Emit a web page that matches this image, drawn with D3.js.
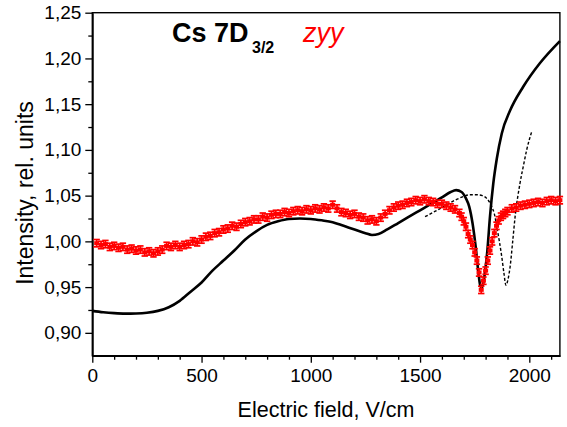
<!DOCTYPE html>
<html>
<head>
<meta charset="utf-8">
<script src="https://cdn.jsdelivr.net/npm/d3@7"></script>
<style>
  html, body { margin: 0; padding: 0; background: #fff; }
  svg { display: block; font-family: "Liberation Sans", Arial, sans-serif; }
</style>
</head>
<body>
<svg id="chart" width="567" height="427"></svg>
<script>
// Measured intensity (red, with error bars)
const redX = [20,40,60,80,100,120,140,160,180,200,220,240,260,280,300,320,340,360,380,400,
  420,440,460,480,500,520,540,560,580,600,620,640,660,680,700,720,740,760,780,800,
  820,840,860,880,900,920,940,960,980,1000,1020,1040,1060,1080,1100,1120,1140,1160,1180,1200,
  1220,1240,1260,1280,1300,1320,1340,1360,1380,1400,1420,1440,1460,1480,1500,1520,1540,1560,1580,1600,
  1620,1640,1660,1680,1690,1700,1710,1720,1730,1740,1750,1760,1770,1780,1790,1800,1810,1820,1830,1840,
  1850,1860,1870,1880,1890,1900,1920,1940,1960,1980,2000,2020,2040,2060,2080,2100,2120,2140];
const redY = [0.998,0.996,0.997,0.994,0.995,0.993,0.994,0.991,0.992,0.990,0.991,0.988,0.989,0.987,0.989,0.991,0.995,0.994,0.996,0.994,
  0.996,0.997,1.000,0.999,1.002,1.005,1.006,1.009,1.010,1.013,1.014,1.017,1.016,1.019,1.021,1.022,1.024,1.024,1.027,1.026,
  1.029,1.030,1.030,1.032,1.031,1.033,1.034,1.033,1.035,1.034,1.036,1.035,1.037,1.036,1.040,1.036,1.032,1.031,1.029,1.030,
  1.027,1.026,1.023,1.024,1.022,1.026,1.030,1.034,1.037,1.039,1.040,1.042,1.043,1.045,1.044,1.046,1.044,1.043,1.041,1.041,
  1.039,1.037,1.035,1.031,1.027,1.022,1.016,1.008,1.002,0.996,0.988,0.979,0.966,0.947,0.957,0.968,0.979,0.990,1.000,1.009,
  1.017,1.023,1.027,1.029,1.031,1.033,1.036,1.037,1.039,1.040,1.041,1.042,1.043,1.042,1.044,1.045,1.044,1.045];
const redErr = 0.004;

// Calculated curve (solid)
const calcX = [0,50,100,150,200,250,300,350,400,450,500,550,600,650,700,750,800,850,900,950,
  1000,1050,1100,1150,1200,1250,1280,1310,1350,1400,1450,1500,1550,1600,1640,1665,1690,1710,1725,1740,
  1755,1767,1775,1782,1790,1797,1808,1820,1835,1851,1874,1912,1972,2049,2140];
const calcY = [0.924,0.9225,0.9215,0.921,0.9212,0.922,0.924,0.928,0.935,0.945,0.955,0.968,0.979,0.990,1.002,1.011,1.018,1.022,1.0245,1.025,
  1.0245,1.023,1.021,1.017,1.013,1.009,1.007,1.008,1.013,1.020,1.027,1.034,1.041,1.048,1.054,1.056,1.054,1.047,1.038,1.020,
  0.993,0.966,0.952,0.949,0.955,0.966,0.990,1.027,1.063,1.090,1.118,1.143,1.169,1.195,1.219];

// Calculated curve (dashed)
const dashX = [1523,1570,1622,1660,1698,1730,1759,1785,1805,1828,1840,1851,1863,1874,1884,1893,1902,1912,1924,1935,1957,1975,1988,2011];
const dashY = [1.027,1.033,1.040,1.045,1.049,1.051,1.051,1.050,1.047,1.038,1.030,1.016,1.000,0.983,0.965,0.952,0.958,0.972,1.000,1.027,1.063,1.085,1.100,1.120];

// Axis ticks
const xMajor = [0,500,1000,1500,2000];
const xMinor = [100,200,300,400,600,700,800,900,1100,1200,1300,1400,1600,1700,1800,1900,2100];
const yMajor = [0.90,0.95,1.00,1.05,1.10,1.15,1.20,1.25];
const yMinor = [0.925,0.975,1.025,1.075,1.125,1.175,1.225];

const svg = d3.select("#chart");
const x = d3.scaleLinear().domain([0, 2140]).range([92.3, 559.9]);
const y = d3.scaleLinear().domain([0.875, 1.25]).range([355.7, 12.7]);

const commaFmt = d3.formatLocale({decimal: ",", thousands: " ", grouping: [3], currency: ["", ""]}).format(".2f");

// Frame
svg.append("rect")
  .attr("x", x.range()[0]).attr("y", y.range()[1])
  .attr("width", x.range()[1] - x.range()[0])
  .attr("height", y.range()[0] - y.range()[1])
  .attr("fill", "none").attr("stroke", "#000").attr("stroke-width", 1.4);

// X axis
const gx = svg.append("g").attr("transform", `translate(0,${y.range()[0]})`);
gx.call(d3.axisBottom(x).tickValues(xMajor).tickSize(7).tickSizeOuter(0).tickPadding(6).tickFormat(d3.format("d")));
gx.append("g").call(d3.axisBottom(x).tickValues(xMinor).tickSize(4).tickSizeOuter(0).tickFormat(""));
gx.selectAll(".domain").attr("stroke-width", 1.4);
gx.selectAll("line").attr("stroke-width", 1.3);
gx.selectAll("text").attr("font-size", 19).attr("fill", "#000").attr("font-family", "Liberation Sans, Arial, sans-serif");

// Y axis
const gy = svg.append("g").attr("transform", `translate(${x.range()[0]},0)`);
gy.call(d3.axisLeft(y).tickValues(yMajor).tickSize(7).tickSizeOuter(0).tickPadding(4).tickFormat(commaFmt));
gy.append("g").call(d3.axisLeft(y).tickValues(yMinor).tickSize(4).tickSizeOuter(0).tickFormat(""));
gy.selectAll(".domain").attr("stroke-width", 1.4);
gy.selectAll("line").attr("stroke-width", 1.3);
gy.selectAll("text").attr("font-size", 19).attr("fill", "#000").attr("font-family", "Liberation Sans, Arial, sans-serif");

// Axis titles
svg.append("text")
  .attr("x", 326).attr("y", 417)
  .attr("text-anchor", "middle").attr("font-size", 21.5)
  .text("Electric field, V/cm");
svg.append("text")
  .attr("transform", "translate(33,193) rotate(-90)")
  .attr("text-anchor", "middle").attr("font-size", 23)
  .text("Intensity, rel. units");

// Title
svg.append("text").attr("x", 172).attr("y", 42)
  .attr("font-size", 27).attr("font-weight", "bold").text("Cs 7D");
svg.append("text").attr("x", 252).attr("y", 53)
  .attr("font-size", 16).attr("font-weight", "bold").text("3/2");
svg.append("text").attr("x", 303).attr("y", 42)
  .attr("font-size", 27).attr("font-style", "italic").attr("fill", "#ff0000").text("zyy");

// Plot contents
const plot = svg.append("g");

// Solid calculated curve
const calcLine = d3.line().x(d => x(d[0])).y(d => y(d[1])).curve(d3.curveMonotoneX);
plot.append("path")
  .datum(d3.zip(calcX, calcY))
  .attr("d", calcLine)
  .attr("fill", "none").attr("stroke", "#000").attr("stroke-width", 2.6)
  .attr("stroke-linejoin", "round");

// Dashed calculated curve
plot.append("path")
  .datum(d3.zip(dashX, dashY))
  .attr("d", calcLine)
  .attr("fill", "none").attr("stroke", "#000").attr("stroke-width", 1.4)
  .attr("stroke-dasharray", "3,2");

// Measured points with error bars
const pts = plot.append("g").attr("stroke", "#ff0000").attr("stroke-width", 1.7);
d3.zip(redX, redY).forEach(([xv, yv]) => {
  const px = x(xv), top = y(yv + redErr), bot = y(yv - redErr);
  pts.append("line").attr("x1", px).attr("x2", px).attr("y1", top).attr("y2", bot);
  pts.append("line").attr("x1", px - 3.2).attr("x2", px + 3.2).attr("y1", top).attr("y2", top);
  pts.append("line").attr("x1", px - 3.2).attr("x2", px + 3.2).attr("y1", bot).attr("y2", bot);
  pts.append("rect").attr("x", px - 2.5).attr("y", y(yv) - 2).attr("width", 5).attr("height", 4)
    .attr("fill", "#ff0000").attr("stroke", "none");
});
</script>
</body>
</html>
